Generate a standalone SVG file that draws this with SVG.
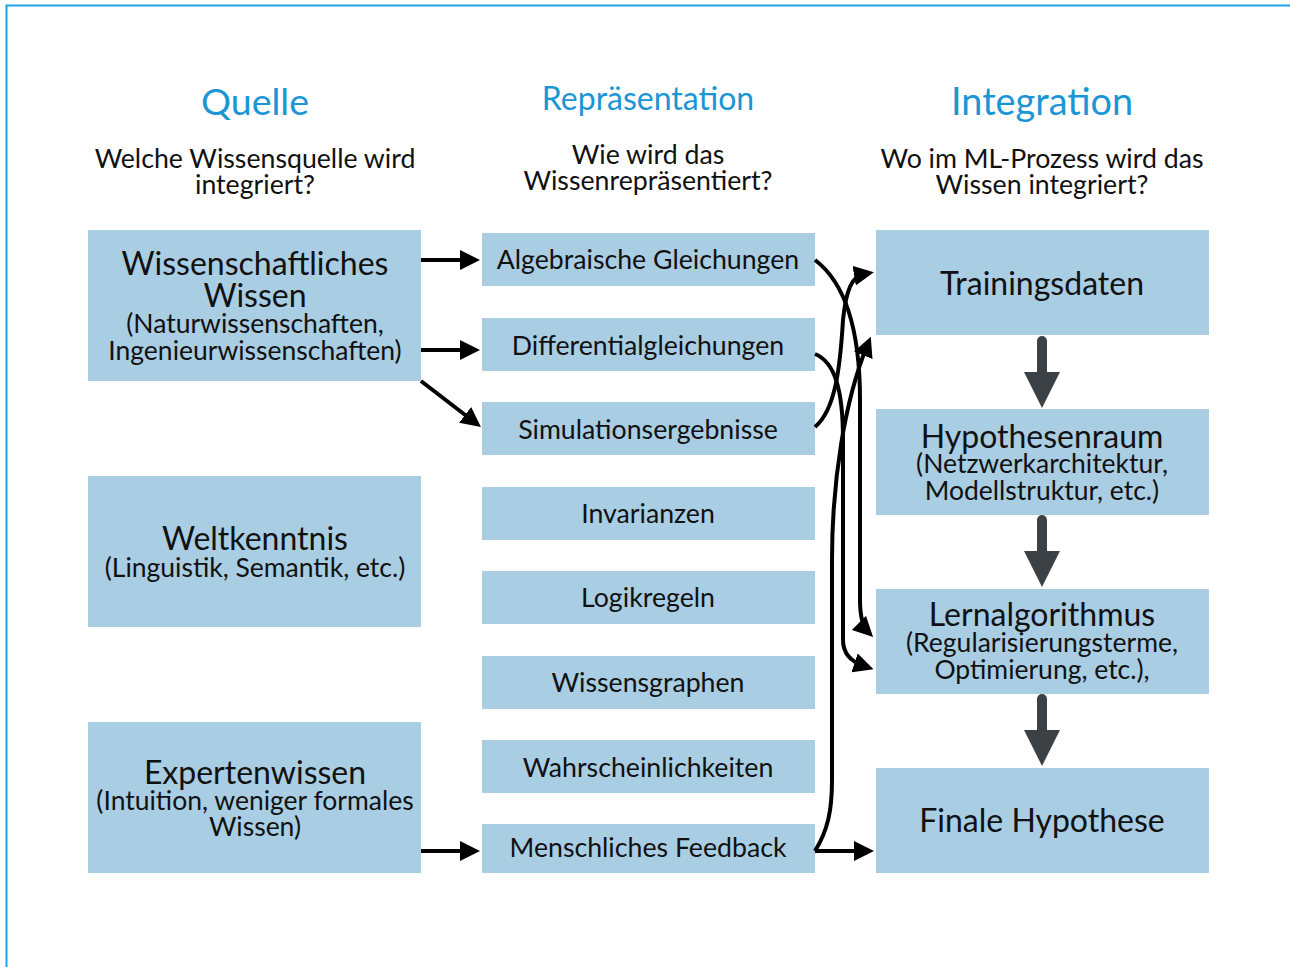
<svg xmlns="http://www.w3.org/2000/svg" width="1290" height="967" viewBox="0 0 1290 967">
<defs>
<style>
text{font-family:Lato,"Open Sans","Liberation Sans",sans-serif;fill:#111;text-anchor:middle}
.h{fill:#1b96d4}
.q{font-size:26.7px}
.big{font-size:32px}
.sm{font-size:26.5px}
.mid{font-size:26.7px}
.box{fill:#a9cde3}
.c{fill:none;stroke:#000;stroke-width:4;marker-end:url(#ah)}
.dk{fill:#3b4144}
</style>
<marker id="ah" markerWidth="5" markerHeight="5" refX="2.5" refY="2.5" orient="auto" markerUnits="strokeWidth" viewBox="0 0 5 5">
<path d="M0,0 L5,2.5 L0,5 Z" fill="#000"/>
</marker>
</defs>
<rect width="1290" height="967" fill="#fff"/>
<path d="M6.5,967 V5.5 H1290" fill="none" stroke="#1ea3e2" stroke-width="2"/>

<g id="headers">
<text class="h" x="255" y="115" font-size="37.5">Quelle</text>
<text class="h" x="648" y="110" font-size="32">Repräsentation</text>
<text class="h" x="1042" y="115" font-size="37.8">Integration</text>
<text class="q" x="255" y="168">Welche Wissensquelle wird</text>
<text class="q" x="255" y="194">integriert?</text>
<text class="q" x="648" y="164">Wie wird das</text>
<text class="q" x="648" y="190">Wissenrepräsentiert?</text>
<text class="q" x="1042" y="168">Wo im ML-Prozess wird das</text>
<text class="q" x="1042" y="194">Wissen integriert?</text>
</g>

<g id="n-wiss"><rect class="box" x="88" y="230" width="333" height="151"/>
<text class="big" x="255" y="275">Wissenschaftliches</text>
<text class="big" x="255" y="307">Wissen</text>
<text class="sm" x="255" y="333">(Naturwissenschaften,</text>
<text class="sm" x="255" y="360">Ingenieurwissenschaften)</text></g>
<g id="n-welt"><rect class="box" x="88" y="476" width="333" height="151"/>
<text class="big" x="255" y="550">Weltkenntnis</text>
<text class="sm" x="255" y="577">(Linguistik, Semantik, etc.)</text></g>
<g id="n-exp"><rect class="box" x="88" y="722" width="333" height="151"/>
<text class="big" x="255" y="784">Expertenwissen</text>
<text class="sm" x="255" y="810">(Intuition, weniger formales</text>
<text class="sm" x="255" y="836">Wissen)</text></g>

<g id="n-alg"><rect class="box" x="482" y="233" width="333" height="53"/><text class="mid" x="648" y="269">Algebraische Gleichungen</text></g>
<g id="n-diff"><rect class="box" x="482" y="318" width="333" height="53"/><text class="mid" x="648" y="355">Differentialgleichungen</text></g>
<g id="n-sim"><rect class="box" x="482" y="402" width="333" height="53"/><text class="mid" x="648" y="439">Simulationsergebnisse</text></g>
<g id="n-inv"><rect class="box" x="482" y="487" width="333" height="53"/><text class="mid" x="648" y="523">Invarianzen</text></g>
<g id="n-log"><rect class="box" x="482" y="571" width="333" height="53"/><text class="mid" x="648" y="607">Logikregeln</text></g>
<g id="n-graph"><rect class="box" x="482" y="656" width="333" height="53"/><text class="mid" x="648" y="692">Wissensgraphen</text></g>
<g id="n-wahr"><rect class="box" x="482" y="740" width="333" height="53"/><text class="mid" x="648" y="777">Wahrscheinlichkeiten</text></g>
<g id="n-feed"><rect class="box" x="482" y="824" width="333" height="49"/><text class="mid" x="648" y="857">Menschliches Feedback</text></g>

<g id="n-train"><rect class="box" x="876" y="230" width="333" height="105"/><text class="big" x="1042" y="295">Trainingsdaten</text></g>
<g id="n-hyp"><rect class="box" x="876" y="409" width="333" height="106"/>
<text class="big" x="1042" y="448">Hypothesenraum</text>
<text class="sm" x="1042" y="473">(Netzwerkarchitektur,</text>
<text class="sm" x="1042" y="500">Modellstruktur, etc.)</text></g>
<g id="n-lern"><rect class="box" x="876" y="589" width="333" height="105"/>
<text class="big" x="1042" y="626">Lernalgorithmus</text>
<text class="sm" x="1042" y="652">(Regularisierungsterme,</text>
<text class="sm" x="1042" y="679">Optimierung, etc.),</text></g>
<g id="n-final"><rect class="box" x="876" y="768" width="333" height="105"/><text class="big" x="1042" y="832">Finale Hypothese</text></g>

<g id="connectors">
<path class="c" d="M421,260 H470"/>
<path class="c" d="M421,350 H470"/>
<path class="c" d="M421,381 L473,421"/>
<path class="c" d="M421,851 H470"/>
<path class="c" d="M815,851 H864"/>
<path class="c" d="M815,260 C835,275 860,310 860,400 L860,600 C860,618 864,628 866,630"/>
<path class="c" d="M815,354 C835,362 843,390 843,440 L843,640 C843,655 852,662 864,666"/>
<path class="c" d="M815,427 C835,410 840,370 843,320 C846,290 852,276 864,274"/>
<path class="c" d="M815,851 C828,830 832,810 832,780 L832,560 C832,480 845,400 867,346"/>
<path class="dk" d="M1037,341 a5,5 0 0 1 10,0 V372 H1060 L1042,408 L1024,372 H1037 Z"/>
<path class="dk" d="M1037,520 a5,5 0 0 1 10,0 V551 H1060 L1042,587 L1024,551 H1037 Z"/>
<path class="dk" d="M1037,699 a5,5 0 0 1 10,0 V730 H1060 L1042,766 L1024,730 H1037 Z"/>
</g>
</svg>
